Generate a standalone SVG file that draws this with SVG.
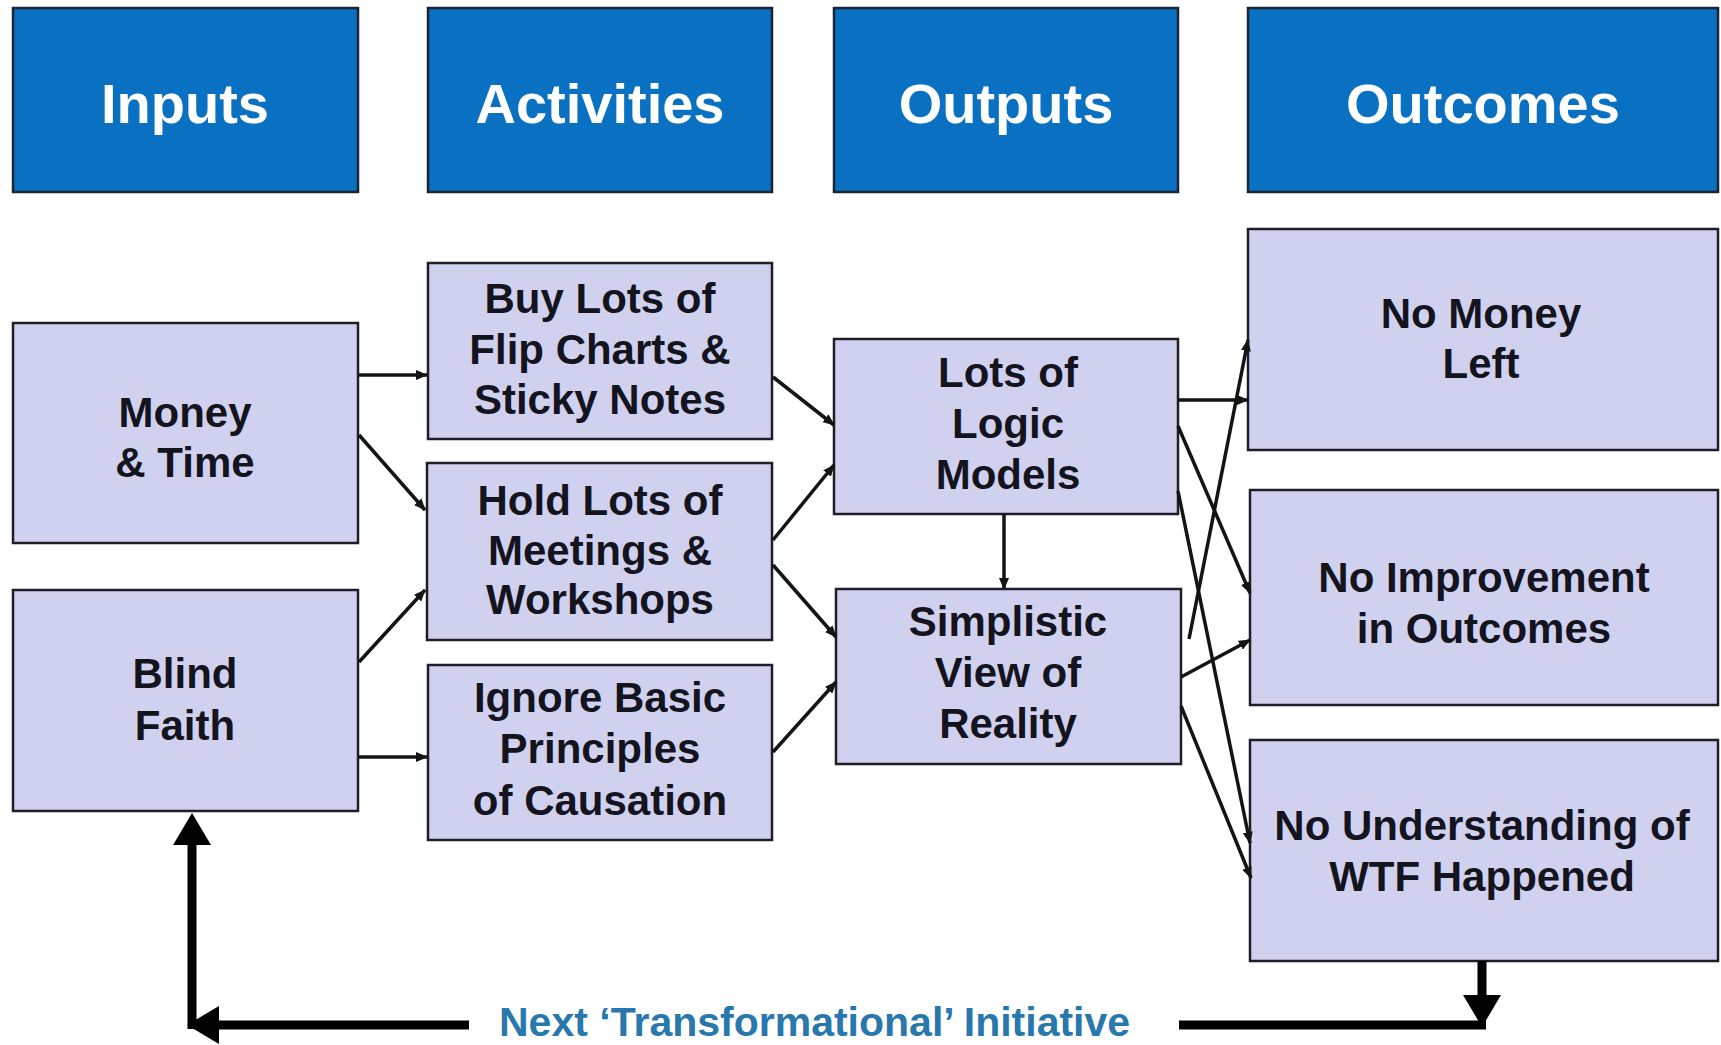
<svg xmlns="http://www.w3.org/2000/svg" width="1721" height="1045" viewBox="0 0 1721 1045">
<style>
.hdr rect{fill:#0a70c2;stroke:#1a2636;stroke-width:2.5}
.hdr text{font-family:"Liberation Sans",Arial,sans-serif;font-weight:bold;font-size:56px;fill:#ffffff;text-anchor:middle}
.box rect{fill:#cfd1ef;stroke:#1e1e28;stroke-width:2.5}
.box text{font-family:"Liberation Sans",Arial,sans-serif;font-weight:bold;font-size:42px;fill:#14141e;text-anchor:middle}
.thin line{stroke:#141414;stroke-width:3.5;marker-end:url(#ah)}
.thick line{stroke:#000;stroke-width:9}
.lbl{font-family:"Liberation Sans",Arial,sans-serif;font-weight:bold;font-size:41px;fill:#2878ae}
</style>
<defs>
<marker id="ah" markerUnits="userSpaceOnUse" markerWidth="12" markerHeight="10" refX="11" refY="5" orient="auto">
<path d="M0,0 L12,5 L0,10 z" fill="#141414"/>
</marker>
<marker id="big" markerUnits="userSpaceOnUse" markerWidth="32" markerHeight="38" refX="0" refY="19" orient="auto">
<path d="M0,0 L32,19 L0,38 z" fill="#000"/>
</marker>
</defs>
<rect width="1721" height="1045" fill="#ffffff"/>

<g id="h-inputs" class="hdr"><rect x="13" y="8" width="345" height="184"/><text x="185" y="123">Inputs</text></g>
<g id="h-activities" class="hdr"><rect x="428" y="8" width="344" height="184"/><text x="600" y="123">Activities</text></g>
<g id="h-outputs" class="hdr"><rect x="834" y="8" width="344" height="184"/><text x="1006" y="123">Outputs</text></g>
<g id="h-outcomes" class="hdr"><rect x="1248" y="8" width="470" height="184"/><text x="1483" y="123">Outcomes</text></g>

<g id="money-time" class="box"><rect x="13" y="323" width="345" height="220"/><text x="185" y="427">Money</text><text x="185" y="477">&amp; Time</text></g>
<g id="blind-faith" class="box"><rect x="13" y="590" width="345" height="221"/><text x="185" y="688">Blind</text><text x="185" y="740">Faith</text></g>
<g id="buy-lots" class="box"><rect x="428" y="263" width="344" height="176"/><text x="600" y="313">Buy Lots of</text><text x="600" y="364">Flip Charts &amp;</text><text x="600" y="414">Sticky Notes</text></g>
<g id="hold-lots" class="box"><rect x="427" y="463" width="345" height="177"/><text x="600" y="515">Hold Lots of</text><text x="600" y="565">Meetings &amp;</text><text x="600" y="614">Workshops</text></g>
<g id="ignore-basic" class="box"><rect x="428" y="665" width="344" height="175"/><text x="600" y="712">Ignore Basic</text><text x="600" y="763">Principles</text><text x="600" y="815">of Causation</text></g>
<g id="logic-models" class="box"><rect x="834" y="339" width="344" height="175"/><text x="1008" y="387">Lots of</text><text x="1008" y="438">Logic</text><text x="1008" y="489">Models</text></g>
<g id="simplistic" class="box"><rect x="836" y="589" width="345" height="175"/><text x="1008" y="636">Simplistic</text><text x="1008" y="687">View of</text><text x="1008" y="738">Reality</text></g>
<g id="no-money" class="box"><rect x="1248" y="229" width="470" height="221"/><text x="1481" y="328">No Money</text><text x="1481" y="378">Left</text></g>
<g id="no-improvement" class="box"><rect x="1250" y="490" width="468" height="215"/><text x="1484" y="592">No Improvement</text><text x="1484" y="643">in Outcomes</text></g>
<g id="no-understanding" class="box"><rect x="1250" y="740" width="468" height="221"/><text x="1482" y="840">No Understanding of</text><text x="1482" y="891">WTF Happened</text></g>

<g id="next-initiative"><text class="lbl" x="499" y="1036">Next ‘Transformational’ Initiative</text></g>

<g id="connectors">
<g class="thin">
<line x1="359" y1="375" x2="427" y2="375"/>
<line x1="359" y1="435" x2="425" y2="510"/>
<line x1="359" y1="662" x2="425" y2="590"/>
<line x1="359" y1="757" x2="427" y2="757"/>
<line x1="773" y1="377" x2="834" y2="425"/>
<line x1="773" y1="540" x2="834" y2="465"/>
<line x1="773" y1="565" x2="836" y2="637"/>
<line x1="773" y1="752" x2="836" y2="682"/>
<line x1="1004" y1="514" x2="1004" y2="589"/>
<line x1="1178" y1="400" x2="1248" y2="400"/>
<line x1="1189" y1="639" x2="1248" y2="340"/>
<line x1="1178" y1="426" x2="1250" y2="593"/>
<line x1="1178" y1="491" x2="1250" y2="843"/>
<line x1="1181" y1="677" x2="1250" y2="640"/>
<line x1="1181" y1="706" x2="1251" y2="878"/>
</g>
<g class="thick">
<line x1="1179" y1="1025" x2="1486" y2="1025"/>
<line x1="1482" y1="961" x2="1482" y2="995" marker-end="url(#big)"/>
<line x1="469" y1="1025" x2="219" y2="1025" marker-end="url(#big)"/>
<line x1="192" y1="1029" x2="192" y2="845" marker-end="url(#big)"/>
</g>
</g>
</svg>
